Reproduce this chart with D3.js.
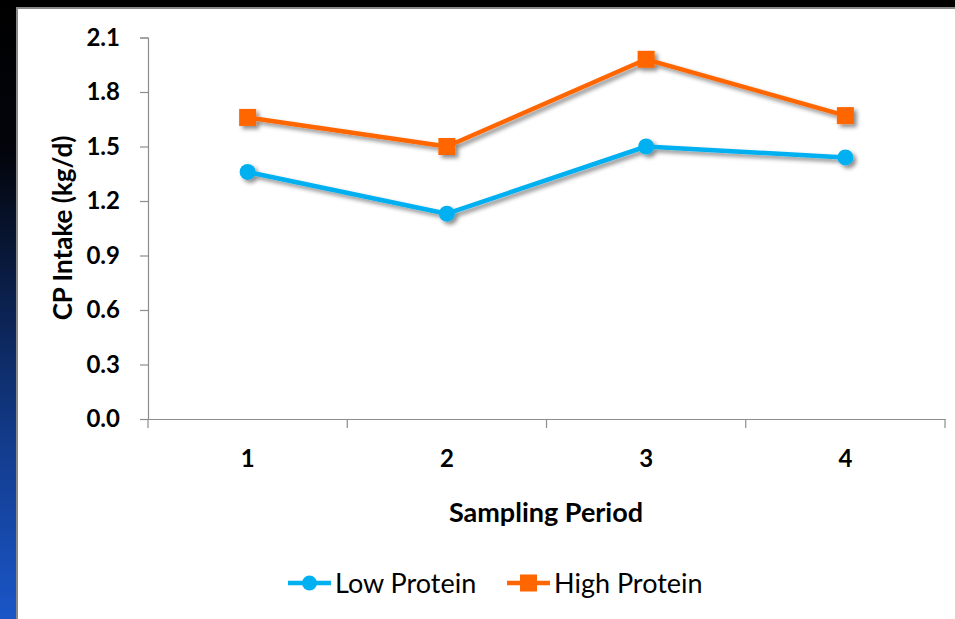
<!DOCTYPE html>
<html>
<head>
<meta charset="utf-8">
<script src="https://cdn.jsdelivr.net/npm/d3@7"></script>
<style>
  body { margin: 0; background: #000; }
  svg { display: block; }
  text { font-family: Lato, "Open Sans", sans-serif; fill: #000; }
</style>
</head>
<body>
<div id="chart"></div>
<script>
// chart data
var periods = ["1", "2", "3", "4"];
var lowProtein = [1.36, 1.13, 1.50, 1.44];
var highProtein = [1.66, 1.50, 1.98, 1.67];
var yTicks = [0, 0.3, 0.6, 0.9, 1.2, 1.5, 1.8, 2.1];
var seriesNames = ["Low Protein", "High Protein"];
var seriesColors = ["#00b0f0", "#ff6600"];

var width = 955, height = 619;

var svg = d3.select("#chart").append("svg")
    .attr("width", width)
    .attr("height", height);

var defs = svg.append("defs");
var grad = defs.append("linearGradient")
    .attr("id", "sidebar")
    .attr("x1", 0).attr("y1", 0).attr("x2", 0).attr("y2", 1);
grad.append("stop").attr("offset", "0%").attr("stop-color", "#000");
grad.append("stop").attr("offset", "25%").attr("stop-color", "#03050c");
grad.append("stop").attr("offset", "70%").attr("stop-color", "#123a88");
grad.append("stop").attr("offset", "100%").attr("stop-color", "#1a56c8");

var shadow = defs.append("filter").attr("id", "shadow")
    .attr("x", "-20%").attr("y", "-20%").attr("width", "140%").attr("height", "140%");
shadow.append("feDropShadow")
    .attr("dx", 3).attr("dy", 3).attr("stdDeviation", 2)
    .attr("flood-color", "#000").attr("flood-opacity", 0.45);

// background: black frame, blue sidebar, white panel
svg.append("rect").attr("width", width).attr("height", height).attr("fill", "#000");
svg.append("rect").attr("x", 0).attr("y", 0).attr("width", 16).attr("height", height)
    .attr("fill", "url(#sidebar)");
svg.append("rect").attr("x", 16).attr("y", 7).attr("width", width - 16).attr("height", height - 7)
    .attr("fill", "#8a8a8a");
svg.append("rect").attr("x", 18).attr("y", 9).attr("width", width - 18).attr("height", height - 9)
    .attr("fill", "#fff");

var x = d3.scaleBand()
    .domain(periods)
    .range([148, 945]);

var y = d3.scaleLinear()
    .domain([0, 2.1])
    .range([419, 37.5]);

// y axis
var yAxis = svg.append("g")
    .attr("transform", "translate(148,0)")
    .call(d3.axisLeft(y).tickValues(yTicks).tickFormat(d3.format(".1f")).tickSize(8).tickPadding(20));
yAxis.select(".domain").attr("stroke", "#8c8c8c").attr("stroke-width", 1.2);
yAxis.selectAll(".tick line").attr("stroke", "#8c8c8c").attr("stroke-width", 1.2);
yAxis.selectAll("text")
    .style("font-size", "24px").style("font-weight", "bold")
    .attr("fill", "#000");

// x axis with boundary ticks
var xAxis = svg.append("g")
    .attr("transform", "translate(0,419)")
    .call(d3.axisBottom(x).tickSize(0).tickPadding(31));
xAxis.select(".domain").attr("stroke", "#8c8c8c").attr("stroke-width", 1.2);
xAxis.selectAll("text")
    .style("font-size", "24px").style("font-weight", "bold")
    .attr("fill", "#000");
var bounds = periods.map(function(p) { return x(p); }).concat([x.range()[1]]);
xAxis.selectAll("line.bound")
    .data(bounds)
    .enter().append("line")
    .attr("class", "bound")
    .attr("x1", function(d) { return d; })
    .attr("x2", function(d) { return d; })
    .attr("y1", 0).attr("y2", 9)
    .attr("stroke", "#8c8c8c").attr("stroke-width", 1.2);

// axis titles
svg.append("text")
    .attr("transform", "translate(72,228) rotate(-90)")
    .attr("text-anchor", "middle")
    .style("font-size", "26px").style("font-weight", "bold")
    .text("CP Intake (kg/d)");

svg.append("text")
    .attr("x", 546).attr("y", 522)
    .attr("text-anchor", "middle")
    .style("font-size", "27px").style("font-weight", "bold")
    .text("Sampling Period");

// series
var series = [lowProtein, highProtein];
var line = d3.line()
    .x(function(d, i) { return x(periods[i]) + x.bandwidth() / 2; })
    .y(function(d) { return y(d); });

series.forEach(function(values, s) {
    var g = svg.append("g").attr("filter", "url(#shadow)");
    g.append("path")
        .datum(values)
        .attr("d", line)
        .attr("fill", "none")
        .attr("stroke", seriesColors[s])
        .attr("stroke-width", 4.5)
        .attr("stroke-linejoin", "round");
    if (s === 0) {
        g.selectAll("circle")
            .data(values)
            .enter().append("circle")
            .attr("cx", function(d, i) { return x(periods[i]) + x.bandwidth() / 2; })
            .attr("cy", function(d) { return y(d); })
            .attr("r", 8)
            .attr("fill", seriesColors[s]);
    } else {
        g.selectAll("rect")
            .data(values)
            .enter().append("rect")
            .attr("x", function(d, i) { return x(periods[i]) + x.bandwidth() / 2 - 8.5; })
            .attr("y", function(d) { return y(d) - 8.5; })
            .attr("width", 17).attr("height", 17)
            .attr("fill", seriesColors[s]);
    }
});

// legend
var legendX = [288, 507];
var legend = svg.append("g");
seriesNames.forEach(function(name, s) {
    var lg = legend.append("g").attr("transform", "translate(" + legendX[s] + ",583)");
    lg.append("line")
        .attr("x1", 0).attr("x2", 43).attr("y1", 0).attr("y2", 0)
        .attr("stroke", seriesColors[s]).attr("stroke-width", 4.5);
    if (s === 0) {
        lg.append("circle").attr("cx", 21.5).attr("cy", 0).attr("r", 7.5).attr("fill", seriesColors[s]);
    } else {
        lg.append("rect").attr("x", 13).attr("y", -8.5).attr("width", 17).attr("height", 17).attr("fill", seriesColors[s]);
    }
    lg.append("text")
        .attr("x", 47).attr("y", 10)
        .style("font-size", "27px")
        .text(name);
});
</script>
</body>
</html>
